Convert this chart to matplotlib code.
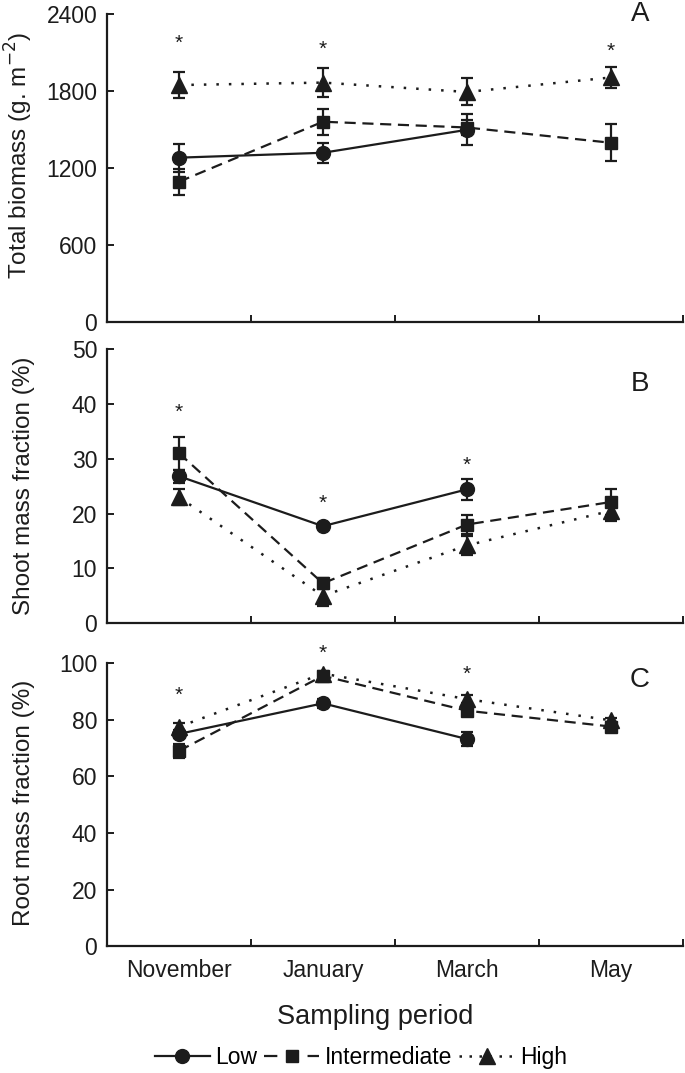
import matplotlib
matplotlib.use("Agg")
import matplotlib.pyplot as plt
from matplotlib.lines import Line2D
import numpy as np

plt.rcParams['font.family'] = ['Liberation Sans', 'DejaVu Sans']

# data
months = ["November", "January", "March", "May"]
x = np.arange(4) + 0.5

# panel A - total biomass (g m-2)
a_low = [1280, 1318, 1497, np.nan]
a_low_err = [110, 80, 120, np.nan]
a_int = [1092, 1560, 1515, 1396]
a_int_err = [100, 100, 60, 145]
a_high = [1846, 1865, 1792, 1905]
a_high_err = [100, 110, 105, 80]
a_star = [(0, 2170), (1, 2125), (3, 2112)]

# panel B - shoot mass fraction (%)
b_low = [26.8, 17.7, 24.4, np.nan]
b_low_err = [1.2, 0.6, 1.9, np.nan]
b_int = [31.0, 7.3, 18.0, 22.1]
b_int_err = [3.0, 1.0, 1.7, 2.4]
b_high = [23.0, 5.0, 14.2, 20.5]
b_high_err = [1.5, 1.8, 1.8, 1.8]
b_star = [(0, 38.4), (1, 21.9), (2, 28.8)]

# panel C - root mass fraction (%)
c_low = [75.0, 85.8, 73.2, np.nan]
c_low_err = [1.5, 1.5, 2.5, np.nan]
c_int = [69.0, 95.5, 83.2, 77.6]
c_int_err = [2.5, 1.0, 1.5, 1.5]
c_high = [77.5, 96.3, 87.3, 79.8]
c_high_err = [1.5, 1.0, 1.5, 1.0]
c_star = [(0, 88.5), (1, 103.3), (2, 96.2)]

col = "#1c1c1c"
dash = (0, (5, 3))
dot = (0, (1, 4))

fig = plt.figure(figsize=(6.85, 10.73), dpi=100)
axA = fig.add_axes([0.156, 0.700, 0.841, 0.287])
axB = fig.add_axes([0.156, 0.419, 0.841, 0.256])
axC = fig.add_axes([0.156, 0.118, 0.841, 0.264])

panels = [
    (axA, a_low, a_low_err, a_int, a_int_err, a_high, a_high_err, a_star,
     (0, 2400), [0, 600, 1200, 1800, 2400], "Total biomass (g. m$^{-2}$)", 0.54, "A", 1.0),
    (axB, b_low, b_low_err, b_int, b_int_err, b_high, b_high_err, b_star,
     (0, 50), [0, 10, 20, 30, 40, 50], "Shoot mass fraction (%)", 0.5, "B", 0.87),
    (axC, c_low, c_low_err, c_int, c_int_err, c_high, c_high_err, c_star,
     (0, 100), [0, 20, 40, 60, 80, 100], "Root mass fraction (%)", 0.505, "C", 0.94),
]

for ax, lo, loe, it, ite, hi, hie, stars, ylim, yt, ylab, laby, letter, ly in panels:
    ax.errorbar(x, hi, yerr=hie, color=col, marker='^', ms=11, lw=1.8,
                linestyle=dot, capsize=4, elinewidth=1.6, capthick=1.6)
    ax.errorbar(x, it, yerr=ite, color=col, marker='s', ms=9, lw=1.6,
                linestyle=dash, capsize=4, elinewidth=1.6, capthick=1.6)
    ax.errorbar(x, lo, yerr=loe, color=col, marker='o', ms=10, lw=1.6,
                linestyle='-', capsize=4, elinewidth=1.6, capthick=1.6)
    for i, ys in stars:
        ax.text(x[i], ys, "*", ha='center', va='center', fontsize=15, color=col)
    ax.set_xlim(0, 4)
    ax.set_ylim(*ylim)
    ax.set_yticks(yt)
    ax.set_xticks([1, 2, 3, 4])
    ax.set_xticklabels([])
    ax.spines['top'].set_visible(False)
    ax.spines['right'].set_visible(False)
    for s in ['left', 'bottom']:
        ax.spines[s].set_linewidth(1.6)
        ax.spines[s].set_color(col)
    ax.tick_params(direction='in', length=5, width=1.4, colors=col,
                   labelsize=16.5, pad=7)
    ax.set_ylabel(ylab, fontsize=17.5, color=col)
    ax.yaxis.set_label_coords(-0.125, laby)
    ax.text(0.925, ly, letter, transform=ax.transAxes, fontsize=20,
            color=col, ha='center', va='center')

axC.set_xticks(x, minor=True)
axC.set_xticklabels(months, minor=True, fontsize=16.5, color=col)
axC.tick_params(axis='x', which='minor', length=0, pad=9)

fig.text(0.547, 0.052, "Sampling period", ha='center', va='center',
         fontsize=19.5, color=col)

handles = [
    Line2D([], [], color=col, marker='o', ms=10, lw=1.6, linestyle='-'),
    Line2D([], [], color=col, marker='s', ms=9, lw=1.6, linestyle=(0, (6, 13.6))),
    Line2D([], [], color=col, marker='^', ms=11, lw=1.8, linestyle=(0, (1, 3))),
]
fig.legend(handles, ["Low", "Intermediate", "High"], loc='center',
           bbox_to_anchor=(0.527, 0.014), ncol=3, frameon=False, fontsize=16.5,
           handlelength=2.4, handletextpad=0.25, columnspacing=0.3,
           numpoints=1)

fig.savefig("out.png", dpi=100)
